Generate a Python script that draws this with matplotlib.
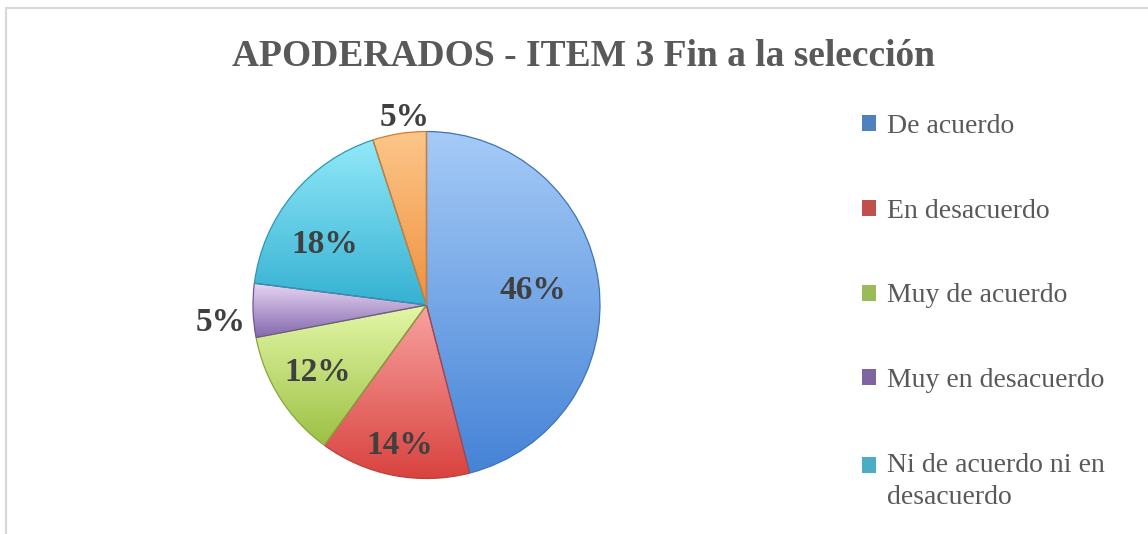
import numpy as np
import matplotlib
matplotlib.use("Agg")
import matplotlib.pyplot as plt
from matplotlib.colors import LinearSegmentedColormap
from matplotlib.patches import Rectangle

# Survey answers and their shares (percent)
categories = ["De acuerdo", "En desacuerdo", "Muy de acuerdo",
              "Muy en desacuerdo", "Ni de acuerdo ni en\ndesacuerdo",
              "No responde"]
percent = [46, 14, 12, 5, 18, 5]
pct_labels = ["46%", "14%", "12%", "5%", "18%", "5%"]

# Slice shading: lighter tone at the top, deeper tone at the bottom
top_colors = ["#a6cbf7", "#f8a3a1", "#e4f7a8", "#e6d6f3", "#92e9f9", "#fcc68a"]
bottom_colors = ["#4583d6", "#d9433f", "#9cc144", "#8466ad", "#35b1d2", "#f0913e"]
edge_colors = ["#3f73b8", "#b8403c", "#86a640", "#6e5690", "#2f97b3", "#cf7c34"]
legend_colors = ["#4f81bd", "#c0504d", "#9bbb59", "#8064a2", "#4bacc6", "#f79646"]

# Label placement per slice: radius (fraction of pie radius) and angle nudge
label_radius = [0.62, 0.81, 0.73, 1.19, 0.69, 1.10]
label_nudge = [1.5, 0.0, -1.5, 2.4, 8.2, -2.5]

W, H = 1148, 534
fig = plt.figure(figsize=(W / 100, H / 100), dpi=100)

serif = ["Liberation Serif", "DejaVu Serif"]

# Chart-area frame (continues past the right and bottom edges)
fig.patches.append(Rectangle((6 / W, -0.2), 1.5, 1.2 - 8 / H, transform=fig.transFigure,
                             fill=False, ec="#d9d9d9", lw=1.6))

cx, cy, R = 426.5, 305.0, 173.5
half = 200.0
ax = fig.add_axes([(cx - half) / W, (H - cy - half) / H, 2 * half / W, 2 * half / H])
rad = R / half
wedges, _ = ax.pie(percent, startangle=90, counterclock=False, radius=rad,
                   wedgeprops=dict(facecolor="none", lw=0.9))
ax.set_aspect("equal")
ax.set_axis_off()

grad = np.linspace(0, 1, 256).reshape(-1, 1)
for w, c0, c1, ec in zip(wedges, top_colors, bottom_colors, edge_colors):
    w.set_edgecolor(ec)
    w.set_zorder(3)
    ext = w.get_path().get_extents()
    cmap = LinearSegmentedColormap.from_list("s", [c0, c1])
    im = ax.imshow(grad, extent=[ext.x0, ext.x1, ext.y0, ext.y1], origin="upper",
                   cmap=cmap, aspect="auto", zorder=2, interpolation="bilinear")
    im.set_clip_path(w)

ax.set_xlim(-1, 1)
ax.set_ylim(-1, 1)

for w, txt, r, dth in zip(wedges, pct_labels, label_radius, label_nudge):
    th = np.deg2rad((w.theta1 + w.theta2) / 2 + dth)
    ax.text(r * rad * np.cos(th), r * rad * np.sin(th) - 0.01, txt, ha="center", va="center",
            fontsize=24, fontweight="bold", color="#404040", family=serif, zorder=5)

fig.text(583 / W, 1 - 66 / H, "APODERADOS - ITEM 3 Fin a la selección",
         ha="center", va="baseline", fontsize=27, fontweight="bold",
         color="#595959", family=serif)

handles = [Rectangle((0, 0), 1, 1, fc=c, ec="none") for c in legend_colors]
leg = fig.legend(handles, categories, loc="upper left",
                 bbox_to_anchor=(862 / W, 1 - 114 / H), frameon=False,
                 prop=dict(family=serif, size=20), labelcolor="#595959",
                 handlelength=0.5, handleheight=0.5, handletextpad=0.4,
                 labelspacing=2.15, borderpad=0, borderaxespad=0)
for t in leg.get_texts():
    t.set_linespacing(1.4)
# keep the marker of the two-line entry level with its first line
wrapped = leg.legend_handles[4]
wrapped.set_y(wrapped.get_y() + 11.5)

fig.savefig("out.png", dpi=100)
